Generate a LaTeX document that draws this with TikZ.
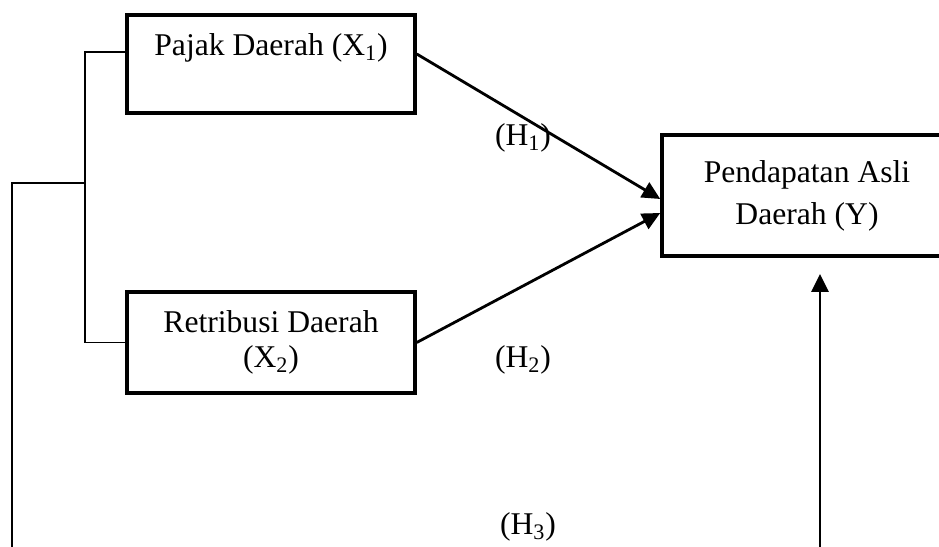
\documentclass[tikz,border=0pt]{standalone}
\usepackage{fontspec}
\setmainfont{Liberation Serif}
\usetikzlibrary{arrows.meta,positioning,calc}

\begin{document}
\begin{tikzpicture}[
  font=\fontsize{18}{24}\selectfont,
  var/.style={
    rectangle, draw=black, line width=2pt,
    minimum width=5.76cm, align=center
  },
  link/.style={line width=0.8pt},
  arr/.style={-{Triangle[length=0.36cm,width=0.34cm]}, line width=1.6pt}
]
\clip (0,0) rectangle (18.78,10.94);

\node[var, inner sep=0pt, text height=0.82cm, text depth=1.14cm] (pajak) at (5.42,9.66) {Pajak Daerah (X\textsubscript{1})};
\node[var, minimum height=2.02cm, font=\fontsize{18}{20}\selectfont] (retribusi) at (5.42,4.09) {Retribusi Daerah\\(X\textsubscript{2})};
\node[var, minimum width=5.8cm, minimum height=2.42cm] (pad) at (16.14,7.03) {Pendapatan Asli\\Daerah (Y)};

\node (h1) at (10.46,8.18) {(H\textsubscript{1})};
\node (h2) at (10.46,3.74) {(H\textsubscript{2})};
\node (h3) at (10.56,0.40) {(H\textsubscript{3})};

\coordinate (joint) at (1.70,7.28);
\coordinate (leftTop) at (0.24,7.28);
\coordinate (leftBot) at (0.24,0);
\coordinate (rightBot) at (16.40,0);
\coordinate (rightTop) at (16.40,5.46);

\draw[link] ([yshift=0.24cm]pajak.west) -| (joint) |- (retribusi.west);
\draw[link] (joint) -- (leftTop) -- (leftBot);
\draw[arr] ([yshift=0.2cm]pajak.east) -- ([yshift=-0.07cm]pad.west);
\draw[arr] (retribusi.east) -- ([yshift=-0.35cm]pad.west);
\draw[arr] (rightBot) -- (rightTop);
\end{tikzpicture}
\end{document}
